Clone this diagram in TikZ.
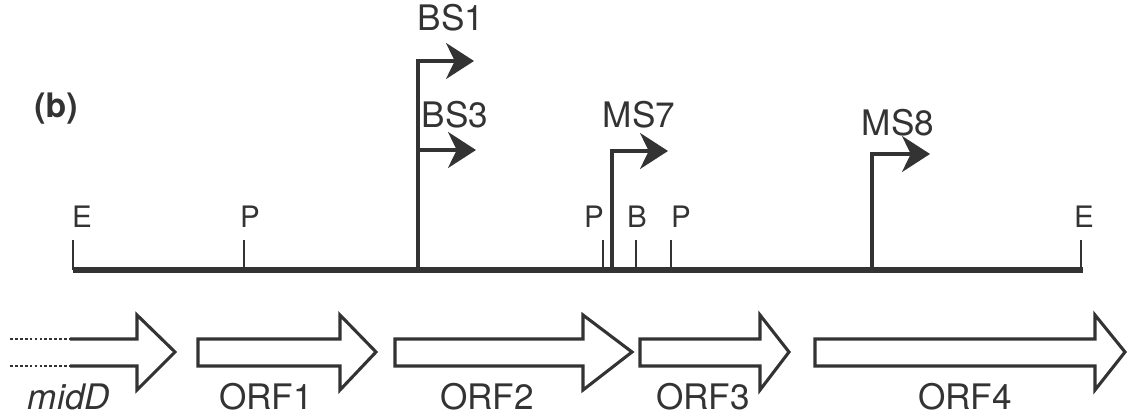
\documentclass[tikz,border=0pt]{standalone}
\usepackage{fontspec}
\setmainfont{TeX Gyre Heros}
\usetikzlibrary{arrows.meta}
\definecolor{ink}{gray}{0.2}

\begin{document}
\begin{tikzpicture}[x=0.025cm,y=-0.025cm,ink,text=ink,
	site/.style={font=\fontsize{21}{21}\selectfont,anchor=base,inner sep=1pt},
	lbl/.style={font=\fontsize{25}{25}\selectfont,anchor=base,inner sep=1pt},
	prom/.style={line width=2.4pt,line join=miter,-{Stealth[length=0.7cm,width=0.9cm,inset=0.22cm]}},
	orf/.style={line width=2.2pt,line join=miter,fill=white}]
	\useasboundingbox (0,0) rectangle (1128,418);
	%\draw[help lines] (0,0) grid[step=50] (1128,418);
	\node[font=\bfseries\fontsize{24}{24}\selectfont,anchor=base,inner sep=1pt] (panel) at (56,118) {(b)};
	% restriction map
	\coordinate (left) at (73,270);
	\coordinate (right) at (1083,270);
	\draw [line width=4.5pt] (left)--(right);
	\foreach \x/\lx/\t/\n in {73/82/E/e1, 244/250/P/p1, 603/594/P/p2, 636/637/B/b1, 671/681/P/p3, 1081/1084/E/e2}{
		\node[site] (\n) at (\lx,228) {\t};
		\coordinate (\n top) at (\x,240);
		\draw [line width=1.1pt] (\n top)--(\n top |- left);
	}
	% promoters
	\coordinate (bs) at (418,270);
	\coordinate (bs1) at (474,61);
	\coordinate (bs3) at (476,150);
	\coordinate (ms7) at (612,270);
	\coordinate (ms7end) at (668,151);
	\coordinate (ms8) at (872,270);
	\coordinate (ms8end) at (930,154);
	\draw [prom] (bs) |- (bs1);
	\draw [prom] (bs) |- (bs3);
	\draw [prom] (ms7) |- (ms7end);
	\draw [prom] (ms8) |- (ms8end);
	\node[lbl] (bs1lbl) at (451,31) {BS1};
	\node[lbl] (bs3lbl) at (455,128) {BS3};
	\node[lbl] (ms7lbl) at (639,128) {MS7};
	\node[lbl] (ms8lbl) at (898,136) {MS8};
	% open reading frames
	\draw [line width=1pt,dash pattern=on 2pt off 1.5pt] (10,339)--(70,339);
	\draw [line width=1pt,dash pattern=on 2pt off 1.5pt] (10,366)--(70,366);
	\draw [orf] (70,339)--(137,339)--(137,315)--(175,352)--(137,390)--(137,366)--(70,366);
	\foreach \a/\b/\c in {198/340/376, 395/583/632, 640/760/789, 815/1095/1125}
		\draw [orf] (\a,339)--(\b,339)--(\b,315)--(\c,352)--(\b,390)--(\b,366)--(\a,366)--cycle;
	\node[lbl,font=\itshape\fontsize{25}{25}\selectfont] (midd) at (69,409) {midD};
	\node[lbl] (orf1) at (266,409) {ORF1};
	\node[lbl] (orf2) at (487,409) {ORF2};
	\node[lbl] (orf3) at (703,409) {ORF3};
	\node[lbl] (orf4) at (965,409) {ORF4};
\end{tikzpicture}
\end{document}
